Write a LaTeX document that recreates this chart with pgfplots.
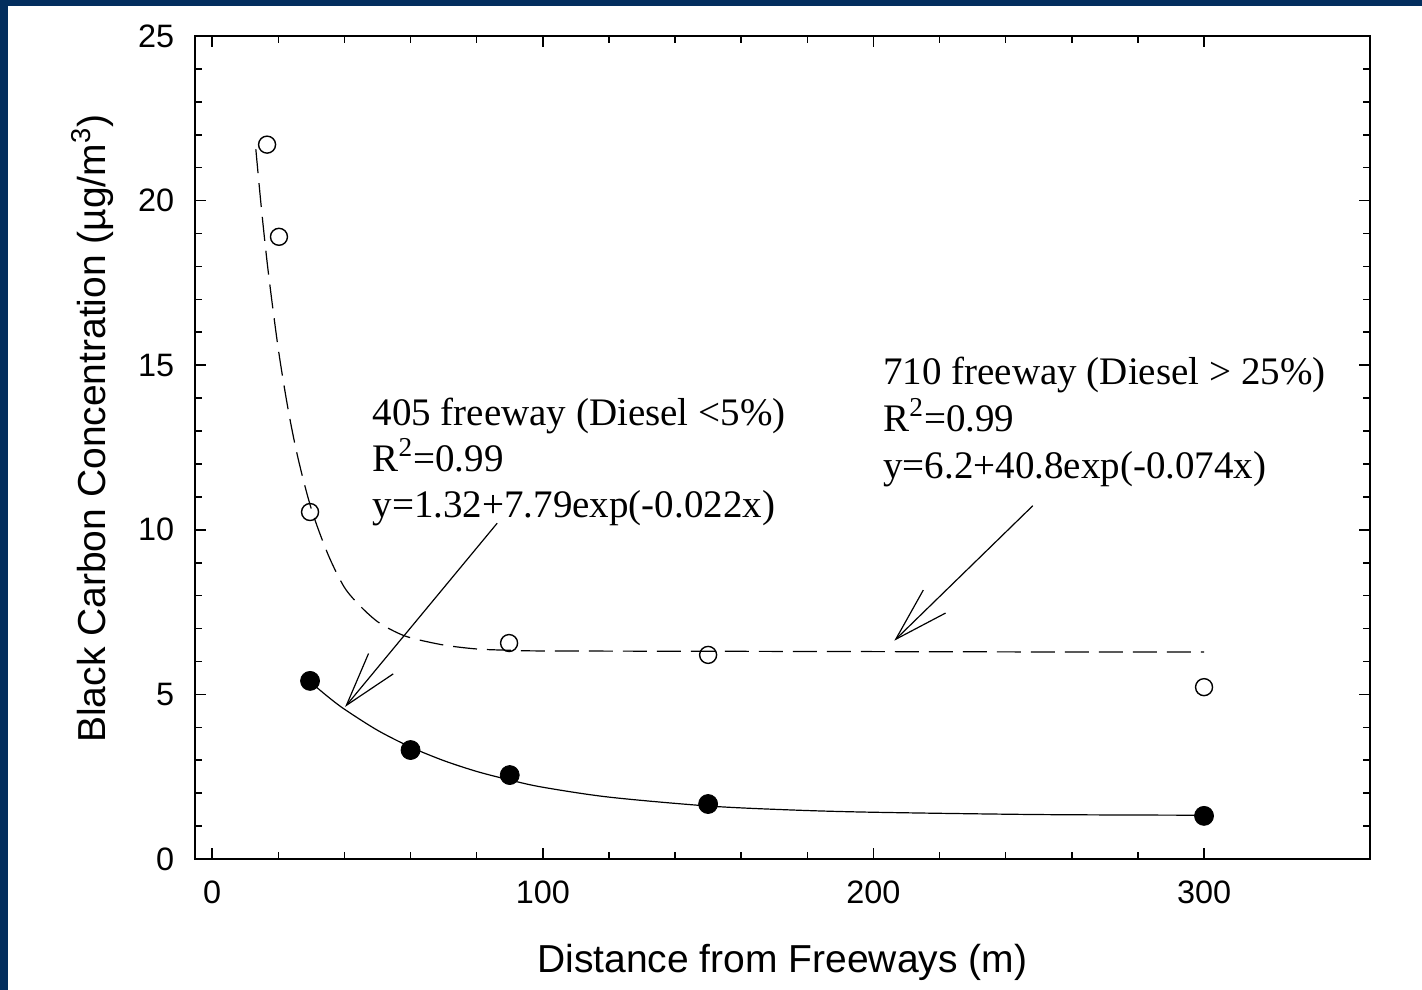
\documentclass[border=0pt]{standalone}
\usepackage{fontspec}
\setmainfont{Liberation Sans}
\newfontfamily\annfont{Liberation Serif}
\usepackage{pgfplots}
\pgfplotsset{compat=1.18}
\usetikzlibrary{arrows.meta}
\definecolor{navy}{RGB}{3,46,94}
\begin{document}
\begin{tikzpicture}
\useasboundingbox (0,0) rectangle (711bp,495bp);
\fill[navy] (0,0) rectangle (711bp,495bp);
\fill[white] (4bp,0) rectangle (711bp,492bp);
\begin{axis}[
  at={(97.25bp,65.5bp)}, anchor=south west,
  scale only axis, width=587.75bp, height=411.5bp,
  xmin=-5.35, xmax=350.2, ymin=0, ymax=25,
  xtick={0,100,200,300}, minor x tick num=4,
  ytick={0,5,...,25}, minor y tick num=4,
  tick pos=both, xticklabel pos=lower, yticklabel pos=left,
  tick align=inside,
  major tick length=5.5bp, minor tick length=3.5bp,
  axis line style={line width=1bp},
  every tick/.style={black, line width=0.8bp},
  tick label style={font=\fontsize{16.2bp}{18bp}\selectfont, inner sep=0pt},
  /pgf/number format/assume math mode=true,
  xticklabel style={yshift=-10.5bp},
  yticklabel style={xshift=-10bp},
  clip=false,
]
% 710 freeway fit (dashed)
\addplot[black, line width=0.6bp, dash pattern=on 12bp off 5bp, smooth] coordinates {
(13.2,21.56)(15,19.65)(17,17.80)(20,15.49)(23,13.64)(26,12.16)(30,10.63)(35,9.26)(40,8.25)(45,7.66)(50,7.21)(55,6.92)(60,6.72)(70,6.50)(80,6.38)(90,6.34)(100,6.32)(150,6.31)(200,6.30)(250,6.29)(300,6.29)};
% 405 freeway fit (solid)
\addplot[black, line width=0.6bp, smooth] coordinates {
(30,5.35)(35,4.93)(40,4.55)(50,3.91)(60,3.40)(70,2.99)(80,2.66)(90,2.40)(100,2.18)(120,1.88)(150,1.61)(175,1.49)(200,1.42)(250,1.35)(300,1.33)};
% 710 freeway data (open circles)
\addplot[only marks, mark=o, mark size=4.25bp, mark options={black, fill=white, line width=0.7bp}] coordinates {
(16.6,21.7)(20.2,18.9)(29.6,10.54)(89.8,6.56)(150,6.2)(300,5.22)};
% 405 freeway data (filled circles)
\addplot[only marks, mark=*, mark size=4.75bp, mark options={black, fill=black}] coordinates {
(29.6,5.41)(60,3.31)(90,2.55)(150,1.67)(300,1.31)};

\draw[line width=0.6bp, -{Straight Barb[length=27bp, width=16bp, line width=0.6bp]}] (axis cs:86.2,10.2) -- (axis cs:40.2,4.62);
\draw[line width=0.6bp, -{Straight Barb[length=27bp, width=16bp, line width=0.6bp]}] (axis cs:248.2,10.73) -- (axis cs:206.3,6.63);

\node[anchor=base west, font=\annfont\fontsize{19.5bp}{22bp}\selectfont, inner sep=0pt] at (axis cs:48.4,13.18) {405 freeway (Diesel <5\%)};
\node[anchor=base west, font=\annfont\fontsize{19.5bp}{22bp}\selectfont, inner sep=0pt] at (axis cs:48.4,11.77) {R\textsuperscript{2}=0.99};
\node[anchor=base west, font=\annfont\fontsize{19.5bp}{22bp}\selectfont, inner sep=0pt] at (axis cs:48.4,10.36) {y=1.32+7.79exp(-0.022x)};

\node[anchor=base west, font=\annfont\fontsize{19.5bp}{22bp}\selectfont, inner sep=0pt] at (axis cs:202.9,14.40) {710 freeway (Diesel > 25\%)};
\node[anchor=base west, font=\annfont\fontsize{19.5bp}{22bp}\selectfont, inner sep=0pt] at (axis cs:202.9,13.00) {R\textsuperscript{2}=0.99};
\node[anchor=base west, font=\annfont\fontsize{19.5bp}{22bp}\selectfont, inner sep=0pt] at (axis cs:202.9,11.57) {y=6.2+40.8exp(-0.074x)};

\node[anchor=base, font=\fontsize{19.5bp}{22bp}\selectfont, inner sep=0pt] at ([yshift=-56.5bp]axis description cs:0.5,0) {Distance from Freeways (m)};
\node[anchor=base, rotate=90, font=\fontsize{19.5bp}{22bp}\selectfont, inner sep=0pt] at ([xshift=-44.5bp]axis description cs:0,0.523) {Black Carbon Concentration (µg/m\textsuperscript{3})};
\end{axis}
\end{tikzpicture}
\end{document}
